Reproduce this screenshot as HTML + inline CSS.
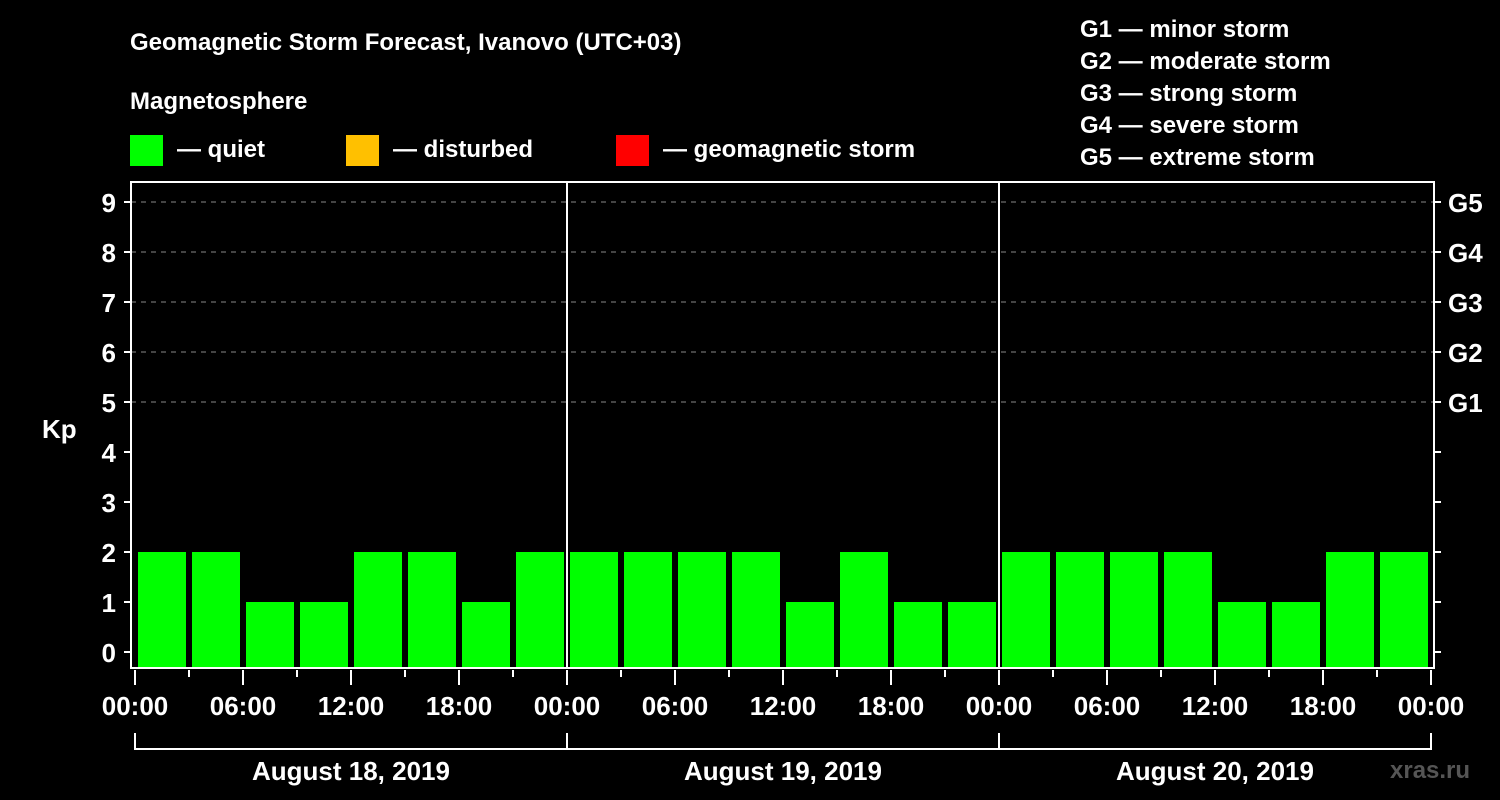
<!DOCTYPE html>
<html><head><meta charset="utf-8"><style>
html,body{margin:0;padding:0;background:#000;}
svg{display:block;font-family:"Liberation Sans",Arial,sans-serif;font-weight:bold;}
</style></head><body>
<svg id="chart" width="1500" height="800" viewBox="0 0 1500 800">
<rect width="1500" height="800" fill="#000"/>
<text x="130" y="50" fill="#fff" font-size="24">Geomagnetic Storm Forecast, Ivanovo (UTC+03)</text>
<text x="130" y="109" fill="#fff" font-size="24">Magnetosphere</text>
<rect x="130" y="135" width="33" height="31" fill="#00ff00"/>
<text x="177" y="157" fill="#fff" font-size="24">— quiet</text>
<rect x="346" y="135" width="33" height="31" fill="#ffc000"/>
<text x="393" y="157" fill="#fff" font-size="24">— disturbed</text>
<rect x="616" y="135" width="33" height="31" fill="#ff0000"/>
<text x="663" y="157" fill="#fff" font-size="24">— geomagnetic storm</text>
<g fill="#fff" font-size="24">
<text x="1080" y="37">G1 — minor storm</text>
<text x="1080" y="69">G2 — moderate storm</text>
<text x="1080" y="101">G3 — strong storm</text>
<text x="1080" y="133">G4 — severe storm</text>
<text x="1080" y="165">G5 — extreme storm</text>
</g>
<text x="42" y="438" fill="#fff" font-size="26">Kp</text>
<g id="grid"></g><g id="bars"></g><g id="axes"></g>
<text x="1390" y="778" fill="#555" font-size="24">xras.ru</text>
</svg>
<script>
const days = ["August 18, 2019","August 19, 2019","August 20, 2019"];
const kpValues = [2,2,1,1,2,2,1,2, 2,2,2,2,1,2,1,1, 2,2,2,2,1,1,2,2];
const yTicks = [0,1,2,3,4,5,6,7,8,9];
const gLabels = ["G1","G2","G3","G4","G5"];
const hourLabels = ["00:00","06:00","12:00","18:00"];

const NS="http://www.w3.org/2000/svg";
const X0=135, DAYW=432, L=131, R=1434, T=182, B=668;
const xScale = h => X0 + h*DAYW/24;
const yScale = v => 652 - v*50;
function mk(tag, attrs, parent, text){const e=document.createElementNS(NS,tag);for(const k in attrs)e.setAttribute(k,attrs[k]);if(text!==undefined)e.textContent=text;parent.appendChild(e);return e;}
const grid=document.getElementById('grid'), bars=document.getElementById('bars'), axes=document.getElementById('axes');

for(let i=0;i<gLabels.length;i++){
  const y=yScale(5+i);
  const g=mk('line',{x1:L,x2:R,y1:y,y2:y,stroke:'#888','stroke-dasharray':'5,5','stroke-width':1},grid);
  
  
  const t=mk('line',{x1:R,x2:R+7,y1:y,y2:y,stroke:'#fff','stroke-width':2},axes);
  
  
  const lb=mk('text',{x:1448,y:y+10,fill:'#fff','font-size':26},axes,gLabels[i]);
  
  
}
for(let v=1;v<5;v++){const y=yScale(v);const t=mk('line',{x1:R,x2:R+7,y1:y,y2:y,stroke:'#fff','stroke-width':2},axes);
  
  }
mk('line',{x1:R,x2:R+7,y1:yScale(0),y2:yScale(0),stroke:'#fff','stroke-width':2},axes);

kpValues.forEach((v,i)=>{
  const x=xScale(i*3)+3, w=xScale(3)-xScale(0)-6;
  const y=yScale(v);
  const col = v>=5?'#ff0000':(v>=4?'#ffc000':'#00ff00');
  const r=mk('rect',{x:x,y:y,width:w,height:B-1-y,fill:col},bars);
  
  
});

const frame=mk('rect',{x:L,y:T,width:R-L,height:B-T,fill:'none',stroke:'#fff','stroke-width':2},axes);


for(let d=1;d<days.length;d++){const x=xScale(d*24);const s=mk('line',{x1:x,x2:x,y1:T,y2:B,stroke:'#fff','stroke-width':2},axes);
  
  }

yTicks.forEach(v=>{
  const y=yScale(v);
  const t=mk('line',{x1:L-7,x2:L,y1:y,y2:y,stroke:'#fff','stroke-width':2},axes);
  
  
  const lb=mk('text',{x:116,y:y+10,fill:'#fff','font-size':26,'text-anchor':'end'},axes,String(v));
  
  
});

for(let h=0;h<=days.length*24;h+=3){
  const x=xScale(h), major=h%6===0;
  const t=mk('line',{x1:x,x2:x,y1:B+2,y2:major?B+17:B+9,stroke:'#fff','stroke-width':2},axes);
  
  
  if(major){
    const lb=mk('text',{x:x,y:715,fill:'#fff','font-size':26,'text-anchor':'middle'},axes,hourLabels[(h/6)%4]);
    
    
  }
}
days.forEach((d,i)=>{
  const x1=xScale(i*24), x2=xScale((i+1)*24);
  const p=mk('path',{d:`M${x1} 733V749H${x2}`+(i===days.length-1?'V733':''),fill:'none',stroke:'#fff','stroke-width':2},axes);
  
  
  const lb=mk('text',{x:(x1+x2)/2,y:780,fill:'#fff','font-size':26,'text-anchor':'middle'},axes,d);
  
  
});
</script>
</body></html>
